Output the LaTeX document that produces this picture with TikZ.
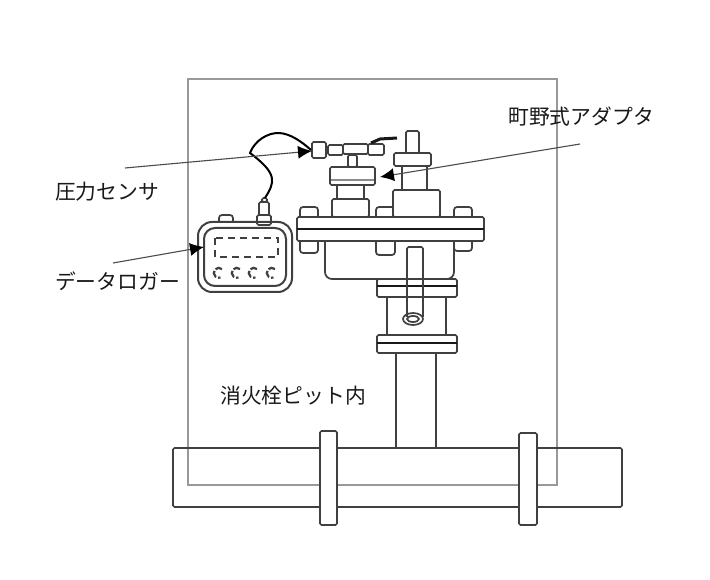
\documentclass[tikz,border=0pt]{standalone}
\usepackage{fontspec}
\newfontfamily\jpfont{Noto Sans CJK JP}
\usetikzlibrary{positioning}
\usetikzlibrary{arrows.meta}
\tikzstyle{part}=[draw=black!75,line width=1.7pt,rounded corners=1.5pt]
\tikzstyle{bar}=[draw=black!90,line width=2.6pt]
\tikzstyle{pit}=[draw=black!40,line width=1.1pt]
\tikzstyle{leader}=[draw=black!70,line width=1.1pt,-{Latex[length=14pt,width=13pt,black]}]
\tikzstyle{label}=[font=\jpfont\fontsize{20.8}{21}\selectfont,inner sep=0pt,text=black!90]

\begin{document}
\begin{tikzpicture}[x=1pt,y=-1pt]
    \useasboundingbox (0,0) rectangle (710,580);
    \fill[white] (0,0) rectangle (710,580);

    % pit outline and main pipe
    \draw[pit] (188,79) rectangle (557,485);
    \draw[part] (173,448) rectangle (622,507);
    \foreach \xa/\xb/\ytop in {320/337/431, 519/537/433}
        \filldraw[part,fill=white] (\xa,\ytop) rectangle (\xb,525);

    % riser and hydrant body
    \draw[part] (396,353) -- (396,448);
    \draw[part] (436,353) -- (436,448);
    \foreach \ytop/\ybot/\ymid in {335/353/343, 279/297/286} {
        \draw[part] (377,\ytop) rectangle (457,\ybot);
        \draw[bar] (377,\ymid) -- (457,\ymid);
    }
    \draw[part] (387,335) -- (387,297) (446,335) -- (446,297);
    \draw[part,rounded corners=7pt] (325,241) -- (325,279) -- (454,279) -- (454,241);
    \draw[part] (407,317) -- (407,247) -- (423,247) -- (423,317);
    \draw[part] (413,319) ellipse (10 and 6);
    \draw[part] (413,319) ellipse (6 and 3);

    % main flange with bolts
    \foreach \xa/\xb/\ybot in {300/318/253, 376/395/255, 454/472/251} {
        \draw[part,rounded corners=3pt] (\xa,217) -- (\xa,207) -- (\xb,207) -- (\xb,217);
        \draw[part,rounded corners=3pt] (\xa,241) -- (\xa,\ybot) -- (\xb,\ybot) -- (\xb,241);
    }
    \filldraw[part,fill=white] (297,217) rectangle (484,241);
    \draw[bar] (297,229) -- (484,229);

    % valve spindle
    \filldraw[part,fill=white] (393,190) rectangle (440,217);
    \draw[part] (402,190) -- (402,166) (427,190) -- (427,166);
    \draw[part] (394,153) rectangle (431,166);
    \draw[part] (406,153) -- (406,131) -- (419,131) -- (419,153);

    % adapter
    \filldraw[part,fill=white] (332,199) rectangle (369,217);
    \draw[part] (337,199) -- (337,185) (364,199) -- (364,185);
    \draw[part] (330,167) rectangle (375,185);
    \draw[draw=black!45,line width=1.3pt] (331,180) -- (374,180);
    \draw[part] (348,155) rectangle (357,167);

    % pressure sensor
    \draw[part] (312,142) rectangle (326,158);
    \draw[part] (328,145) rectangle (343,155);
    \draw[part] (343,144) rectangle (368,154);
    \draw[part] (368,144) rectangle (384,155);
    \draw[bar,line width=3pt] (371,143) -- (380,139) -- (397,138);

    % data logger
    \draw[part,line width=2pt,rounded corners=14pt] (198,222) rectangle (292,292);
    \draw[part,line width=2pt,rounded corners=11pt] (204,228) rectangle (286,286);
    \draw[part,line width=2pt,dash pattern=on 7pt off 5pt,rounded corners=0pt] (215,238) rectangle (278,257);
    \foreach \xc in {219,237,254,272}
        \draw[part,line width=2.2pt,dash pattern=on 7pt off 2pt] (\xc+3,269) arc (-50:-290:5);
    \draw[part,rounded corners=3pt] (219,222) -- (219,215) -- (233,215) -- (233,222);
    \draw[part] (257,225) rectangle (271,215);
    \draw[part] (259,215) -- (259,202) -- (269,202) -- (269,215);
    \draw[part] (262,202) rectangle (267,198);

    % cable
    \coordinate (plug) at (265,198);
    \coordinate (sensorend) at (311,150);
    \draw[draw=black,line width=2pt] (plug) .. controls (275,182) and (278,174) .. (250,153)
        .. controls (255,140) and (268,133) .. (278,133) .. controls (290,133) and (302,142) .. (sensorend);

    % labels and leaders
    \node[label,anchor=west] (sensorlabel) at (55,192) {圧力センサ};
    \node[label,anchor=west] (loggerlabel) at (55,281) {データロガー};
    \node[label,anchor=west] (adapterlabel) at (508,117) {町野式アダプタ};
    \node[label,anchor=west] (pitlabel) at (220,396) {消火栓ピット内};
    \coordinate (sensorfrom) at (125,168);
    \coordinate (sensortip) at (312,151);
    \coordinate (loggerfrom) at (113,263);
    \coordinate (loggertip) at (204,247);
    \coordinate (adapterfrom) at (580,144);
    \coordinate (adaptertip) at (380,177);
    \path[leader] (sensorfrom) -- (sensortip);
    \path[leader] (loggerfrom) -- (loggertip);
    \path[leader] (adapterfrom) -- (adaptertip);
\end{tikzpicture}
\end{document}
